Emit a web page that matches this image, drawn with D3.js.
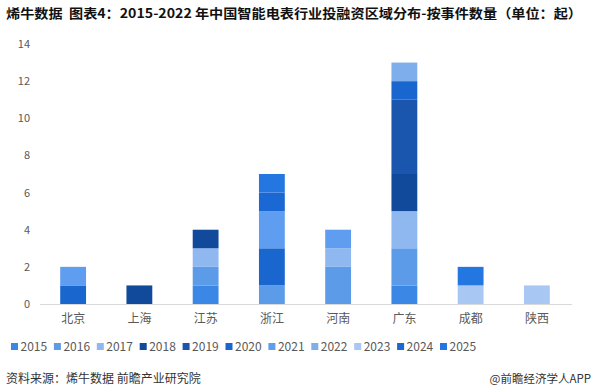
<!DOCTYPE html>
<html>
<head>
<meta charset="utf-8">
<script src="https://cdn.jsdelivr.net/npm/d3@7"></script>
<style>
  body { margin: 0; background: #fff; }
  text { font-family: "Noto Sans CJK SC", "Noto Sans", sans-serif; }
</style>
</head>
<body>
<div id="container"></div>
<script>
// regions and years
var regions = ["北京", "上海", "江苏", "浙江", "河南", "广东", "成都", "陕西"];
var years = ["2015", "2016", "2017", "2018", "2019", "2020", "2021", "2022", "2023", "2024", "2025"];
var yearColors = ["#3a87e6", "#5b9be8", "#8fb8f0", "#124a9b", "#1a56ad", "#1a66cf", "#5e9def", "#7eaeec", "#a8c8f3", "#1a68d4", "#2476e0"];

// event counts per year, one value per region
var v2015 = [0, 0, 1, 0, 0, 1, 0, 0];
var v2016 = [0, 0, 1, 1, 2, 2, 0, 0];
var v2017 = [0, 0, 1, 0, 1, 2, 0, 0];
var v2018 = [0, 1, 1, 0, 0, 2, 0, 0];
var v2019 = [0, 0, 0, 0, 0, 4, 0, 0];
var v2020 = [1, 0, 0, 2, 0, 1, 0, 0];
var v2021 = [1, 0, 0, 2, 1, 0, 0, 0];
var v2022 = [0, 0, 0, 0, 0, 1, 0, 0];
var v2023 = [0, 0, 0, 0, 0, 0, 1, 1];
var v2024 = [0, 0, 0, 1, 0, 0, 0, 0];
var v2025 = [0, 0, 0, 1, 0, 0, 1, 0];
var yTicks = [0, 2, 4, 6, 8, 10, 12, 14];

var series = [v2015, v2016, v2017, v2018, v2019, v2020, v2021, v2022, v2023, v2024, v2025];
var rows = regions.map(function(r, i) {
  var o = { region: r };
  years.forEach(function(y, k) { o[y] = series[k][i]; });
  return o;
});

var W = 597, H = 390;
var svg = d3.select("#container").append("svg")
  .attr("width", W).attr("height", H);

// title
svg.append("text")
  .attr("x", 6).attr("y", 18)
  .attr("font-size", 13).attr("font-weight", "bold").attr("fill", "#111")
  .attr("textLength", 576).attr("lengthAdjust", "spacingAndGlyphs")
  .text("烯牛数据\u00a0\u00a0图表4：2015-2022\u00a0年中国智能电表行业投融资区域分布-按事件数量（单位：起）");

var x = d3.scaleBand().domain(regions).range([40, 570]).paddingInner(0.61).paddingOuter(0.305);
var y = d3.scaleLinear().domain([0, 14]).range([304, 44]);

var stack = d3.stack().keys(years)(rows);

svg.append("g").selectAll("g")
  .data(stack).join("g")
    .attr("fill", function(d, i) { return yearColors[i]; })
  .selectAll("rect")
  .data(function(d) { return d; }).join("rect")
    .attr("x", function(d) { return x(d.data.region); })
    .attr("width", x.bandwidth())
    .attr("y", function(d) { return y(d[1]); })
    .attr("height", function(d) { return y(d[0]) - y(d[1]); });

// x axis
var gx = svg.append("g").attr("transform", "translate(0,304)")
  .call(d3.axisBottom(x).tickSize(0).tickPadding(10));
gx.select(".domain").attr("stroke", "#d9d9d9").attr("d", "M40,0.5H572");
gx.selectAll("text").attr("font-size", 12).attr("fill", "#595959");

// y axis
var gy = svg.append("g").attr("transform", "translate(36,0)")
  .call(d3.axisLeft(y).tickValues(yTicks).tickSize(0).tickPadding(6));
gy.select(".domain").remove();
gy.selectAll("text").attr("font-size", 11).attr("fill", "#595959");

// legend
var lg = svg.append("g").selectAll("g")
  .data(years).join("g")
  .attr("transform", function(d, i) { return "translate(" + (11 + i * 42.9) + ",343)"; });
lg.append("rect").attr("width", 7).attr("height", 7)
  .attr("fill", function(d, i) { return yearColors[i]; });
lg.append("text").attr("x", 9.5).attr("y", 8)
  .attr("font-size", 12).attr("fill", "#595959").text(function(d) { return d; });

// footer
svg.append("text").attr("x", 6).attr("y", 383)
  .attr("font-size", 12).attr("fill", "#333")
  .text("资料来源：烯牛数据 前瞻产业研究院");
svg.append("text").attr("x", 591).attr("y", 383).attr("text-anchor", "end")
  .attr("font-size", 11.5).attr("fill", "#333")
  .text("@前瞻经济学人APP");
</script>
</body>
</html>
